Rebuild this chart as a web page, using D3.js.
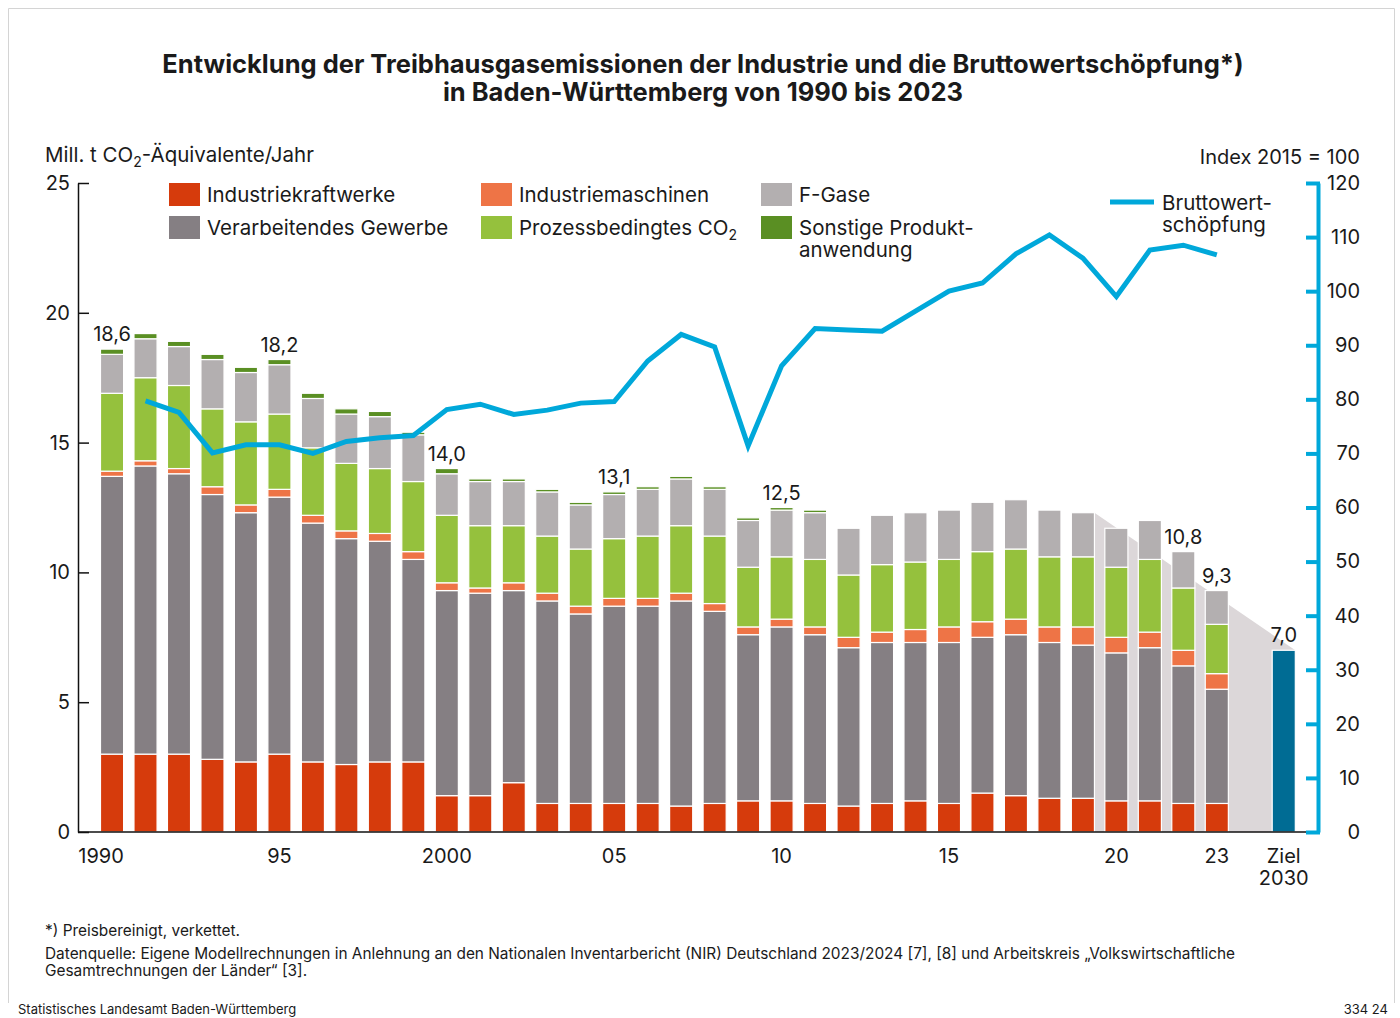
<!DOCTYPE html>
<html>
<head>
<meta charset="utf-8">
<script src="https://cdn.jsdelivr.net/npm/d3@7"></script>
<style>
  body { margin: 0; background: #fff; }
  svg text { font-family: Inter, "Noto Sans", sans-serif; fill: #1a1a1a; }
</style>
</head>
<body>
<svg id="chart" width="1400" height="1018"></svg>
<script>
// Data (Mill. t CO2-Äquivalente)
const years = d3.range(1990, 2024).map(String);
const kraftwerke   = [3.0,3.0,3.0,2.8,2.7,3.0,2.7,2.6,2.7,2.7, 1.4,1.4,1.9,1.1,1.1,1.1,1.1,1.0,1.1,1.2, 1.2,1.1,1.0,1.1,1.2,1.1,1.5,1.4,1.3,1.3, 1.2,1.2,1.1,1.1];
const gewerbe      = [10.7,11.1,10.8,10.2,9.6,9.9,9.2,8.7,8.5,7.8, 7.9,7.8,7.4,7.8,7.3,7.6,7.6,7.9,7.4,6.4, 6.7,6.5,6.1,6.2,6.1,6.2,6.0,6.2,6.0,5.9, 5.7,5.9,5.3,4.4];
const maschinen    = [0.2,0.2,0.2,0.3,0.3,0.3,0.3,0.3,0.3,0.3, 0.3,0.2,0.3,0.3,0.3,0.3,0.3,0.3,0.3,0.3, 0.3,0.3,0.4,0.4,0.5,0.6,0.6,0.6,0.6,0.7, 0.6,0.6,0.6,0.6];
const prozess      = [3.0,3.2,3.2,3.0,3.2,2.9,2.6,2.6,2.5,2.7, 2.6,2.4,2.2,2.2,2.2,2.3,2.4,2.6,2.6,2.3, 2.4,2.6,2.4,2.6,2.6,2.6,2.7,2.7,2.7,2.7, 2.7,2.8,2.4,1.9];
const fgase        = [1.5,1.5,1.5,1.9,1.9,1.9,1.9,1.9,2.0,1.8, 1.6,1.7,1.7,1.7,1.7,1.7,1.8,1.8,1.8,1.8, 1.8,1.8,1.8,1.9,1.9,1.9,1.9,1.9,1.8,1.7, 1.5,1.5,1.4,1.3];
const sonstige     = [0.2,0.2,0.2,0.2,0.2,0.2,0.2,0.2,0.2,0.1, 0.2,0.1,0.1,0.1,0.1,0.1,0.1,0.1,0.1,0.1, 0.1,0.1,0,0,0,0,0,0,0,0, 0,0,0,0];
const ziel2030 = 7.0;

// Bruttowertschöpfung, Index 2015 = 100 (ab 1991)
const bwsYears = d3.range(1991, 2024).map(String);
const bws = [79.7,77.6,70.1,71.6,71.6,70.0,72.2,72.9,73.3, 78.1,79.1,77.2,78.0,79.3,79.6,87.1,92.0,89.7,71.4, 86.2,93.1,92.8,92.6,96.3,100.0,101.5,106.9,110.4,106.1, 99.0,107.6,108.5,106.7];

const valueLabels = [["1990","18,6"],["1995","18,2"],["2000","14,0"],["2005","13,1"],["2010","12,5"],["2022","10,8"],["2023","9,3"],["2030","7,0"]];
const xTickLabels = [["1990","1990"],["1995","95"],["2000","2000"],["2005","05"],["2010","10"],["2015","15"],["2020","20"],["2023","23"]];

const seriesKeys = ["kraftwerke","gewerbe","maschinen","prozess","fgase","sonstige"];
const seriesData = {kraftwerke, gewerbe, maschinen, prozess, fgase, sonstige};
const colors = {
  kraftwerke: "#d63b0c",
  gewerbe: "#857f83",
  maschinen: "#ee7446",
  prozess: "#95c13d",
  fgase: "#b3afb0",
  sonstige: "#5a8f23"
};

const svg = d3.select("#chart");

// frame
svg.append("path")
  .attr("d", "M8.5,1003 V8.5 H1394.5 V1003")
  .attr("fill", "none").attr("stroke", "#d4d4d4").attr("stroke-width", 1);

// title
const title = svg.append("text").attr("text-anchor", "middle")
  .style("font-weight", 700).style("font-size", "25.5px");
title.append("tspan").attr("x", 703).attr("y", 73)
  .text("Entwicklung der Treibhausgasemissionen der Industrie und die Bruttowertschöpfung*)");
title.append("tspan").attr("x", 703).attr("y", 101)
  .text("in Baden-Württemberg von 1990 bis 2023");

// scales
const slots = years.concat(["gap", "2030"]);
const x = d3.scaleBand().domain(slots).range([95.3, 1300.5]).paddingInner(0.31).paddingOuter(0.155);
const y = d3.scaleLinear().domain([0, 25]).range([832, 183]);
const yR = d3.scaleLinear().domain([0, 120]).range([832, 183]);

// stacked data
const rows = years.map((yr, i) => {
  const r = {year: yr};
  seriesKeys.forEach(k => r[k] = seriesData[k][i]);
  return r;
});
const stacked = d3.stack().keys(seriesKeys)(rows);
const totals = rows.map(r => d3.sum(seriesKeys, k => r[k]));

// shaded path 2019 -> target 2030
const t2019 = totals[years.indexOf("2019")];
const xs = x("2019") + x.bandwidth();
const xe = x("2030") + x.bandwidth();
svg.append("path")
  .attr("d", `M${xs},${y(t2019)} L${xe},${y(ziel2030)} L${xe},${y(0)} L${xs},${y(0)} Z`)
  .attr("fill", "#dcd7d9");

// bars
const layers = svg.append("g").selectAll("g").data(stacked).join("g")
  .attr("fill", d => colors[d.key]);
layers.selectAll("rect").data(d => d.filter(s => s[1] - s[0] > 0)).join("rect")
  .attr("x", d => x(d.data.year))
  .attr("width", x.bandwidth())
  .attr("y", d => y(d[1]))
  .attr("height", d => y(d[0]) - y(d[1]))
  .attr("stroke", "#fff").attr("stroke-width", 1.2);

svg.append("rect")
  .attr("x", x("2030")).attr("width", x.bandwidth())
  .attr("y", y(ziel2030)).attr("height", y(0) - y(ziel2030))
  .attr("fill", "#006c94").attr("stroke", "#fff").attr("stroke-width", 1.2);

// value labels
svg.append("g").selectAll("text").data(valueLabels).join("text")
  .attr("x", d => x(d[0]) + x.bandwidth() / 2)
  .attr("y", d => y(d[0] === "2030" ? ziel2030 : totals[years.indexOf(d[0])]) - 8)
  .attr("text-anchor", "middle").style("font-size", "20px")
  .text(d => d[1]);

// baseline
svg.append("line").attr("x1", 78).attr("x2", 1307).attr("y1", y(0)).attr("y2", y(0))
  .attr("stroke", "#111").attr("stroke-width", 1.5);

// left axis
const gL = svg.append("g").attr("transform", "translate(78,0)")
  .call(d3.axisLeft(y).tickValues([0, 5, 10, 15, 20, 25]).tickSizeInner(-11).tickSizeOuter(0).tickPadding(8));
gL.select(".domain").attr("stroke", "#111").attr("stroke-width", 1.5);
gL.selectAll(".tick line").attr("stroke", "#111").attr("stroke-width", 1.5);
gL.selectAll(".tick text").style("font-size", "20px").attr("fill", "#1a1a1a").attr("font-family", null);

// right axis
const blue = "#00a8da";
const gR = svg.append("g").attr("transform", "translate(1318,0)")
  .call(d3.axisRight(yR).tickValues(d3.range(0, 121, 10)).tickSizeInner(-12).tickSizeOuter(0).tickPadding(0));
gR.select(".domain").attr("stroke", blue).attr("stroke-width", 4);
gR.selectAll(".tick line").attr("stroke", blue).attr("stroke-width", 4).attr("x1", 2);
gR.selectAll(".tick text").style("font-size", "20px").attr("fill", "#1a1a1a")
  .attr("font-family", null).attr("text-anchor", "end").attr("x", 42);

// x tick labels
svg.append("g").selectAll("text").data(xTickLabels).join("text")
  .attr("x", d => x(d[0]) + x.bandwidth() / 2 + (d[0] === "1990" ? -11 : 0))
  .attr("y", 863).attr("text-anchor", "middle").style("font-size", "20px")
  .text(d => d[1]);
const zl = svg.append("text").attr("text-anchor", "middle").style("font-size", "20px");
zl.append("tspan").attr("x", x("2030") + x.bandwidth() / 2).attr("y", 863).text("Ziel");
zl.append("tspan").attr("x", x("2030") + x.bandwidth() / 2).attr("y", 885).text("2030");

// Bruttowertschöpfung line
const line = d3.line()
  .x((d, i) => x(bwsYears[i]) + x.bandwidth() / 2)
  .y(d => yR(d));
svg.append("path").datum(bws).attr("d", line)
  .attr("fill", "none").attr("stroke", blue).attr("stroke-width", 5)
  .attr("stroke-linejoin", "miter");

// axis titles
const yt = svg.append("text").attr("x", 45).attr("y", 162).style("font-size", "20.5px");
yt.append("tspan").text("Mill. t CO");
yt.append("tspan").attr("dy", 5).style("font-size", "14px").text("2");
yt.append("tspan").attr("dy", -5).text("-Äquivalente/Jahr");
svg.append("text").attr("x", 1360).attr("y", 164).attr("text-anchor", "end")
  .style("font-size", "20px").text("Index 2015 = 100");

// legend
const legendItems = [
  {key: "kraftwerke", x: 169, y: 183, lines: ["Industriekraftwerke"]},
  {key: "gewerbe", x: 169, y: 216, lines: ["Verarbeitendes Gewerbe"]},
  {key: "maschinen", x: 481, y: 183, lines: ["Industriemaschinen"]},
  {key: "prozess", x: 481, y: 216, lines: ["Prozessbedingtes CO"], sub: true},
  {key: "fgase", x: 761, y: 183, lines: ["F-Gase"]},
  {key: "sonstige", x: 761, y: 216, lines: ["Sonstige Produkt-", "anwendung"]}
];
const lg = svg.append("g").selectAll("g").data(legendItems).join("g");
lg.append("rect").attr("x", d => d.x).attr("y", d => d.y)
  .attr("width", 31).attr("height", 23).attr("fill", d => colors[d.key]);
lg.each(function (d) {
  const t = d3.select(this).append("text").attr("x", d.x + 38).attr("y", d.y + 19)
    .style("font-size", "20.5px");
  d.lines.forEach((l, i) => {
    t.append("tspan").attr("x", d.x + 38).attr("dy", i === 0 ? 0 : 22).text(l);
  });
  if (d.sub) {
    t.append("tspan").attr("dy", 5).style("font-size", "14px").text("2");
  }
});

svg.append("line").attr("x1", 1110).attr("x2", 1154).attr("y1", 202).attr("y2", 202)
  .attr("stroke", blue).attr("stroke-width", 5);
const bl = svg.append("text").style("font-size", "20.5px");
bl.append("tspan").attr("x", 1162).attr("y", 210).text("Bruttowert-");
bl.append("tspan").attr("x", 1162).attr("y", 232).text("schöpfung");

// footnotes
const foot = svg.append("g").style("font-size", "15.4px");
foot.append("text").attr("x", 45).attr("y", 936).text("*) Preisbereinigt, verkettet.");
foot.append("text").attr("x", 45).attr("y", 959)
  .text("Datenquelle: Eigene Modellrechnungen in Anlehnung an den Nationalen Inventarbericht (NIR) Deutschland 2023/2024 [7], [8] und Arbeitskreis „Volkswirtschaftliche");
foot.append("text").attr("x", 45).attr("y", 976).text("Gesamtrechnungen der Länder“ [3].");
svg.append("text").attr("x", 18).attr("y", 1014).style("font-size", "13px")
  .text("Statistisches Landesamt Baden-Württemberg");
svg.append("text").attr("x", 1388).attr("y", 1014).attr("text-anchor", "end").style("font-size", "13px")
  .text("334 24");
</script>
</body>
</html>
